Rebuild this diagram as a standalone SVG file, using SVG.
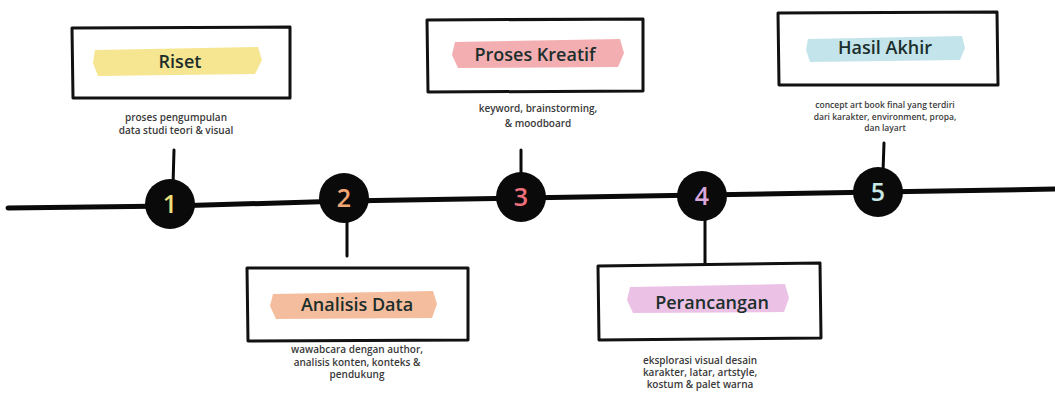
<svg xmlns="http://www.w3.org/2000/svg" width="1055" height="396" viewBox="0 0 1055 396">
<style>
.box{fill:#fff;stroke:#111;stroke-width:3;stroke-linejoin:round}
.hl{opacity:0.85}
.title{font-family:"Open Sans","Liberation Sans",sans-serif;font-size:18px;font-weight:600;fill:#1c2e2b;text-anchor:middle}
.desc{font-family:"Open Sans","Liberation Sans",sans-serif;font-size:10px;font-weight:600;fill:#3a3a3a;text-anchor:middle}
.descs{font-family:"Open Sans","Liberation Sans",sans-serif;font-size:8.5px;font-weight:600;fill:#3a3a3a;text-anchor:middle}
.dot{fill:#0a0a0a}
.num{font-family:"Open Sans","Liberation Sans",sans-serif;font-size:25px;font-weight:600;text-anchor:middle}
.ln{stroke:#0a0a0a;fill:none;stroke-linecap:round}
</style>
<rect width="1055" height="396" fill="#fff"/>
<g id="connectors">
<path class="ln" d="M8,208 L172,206 L345,201 L521,198 L702,195 L878,192 L1055,189" stroke-width="5"/>
<line class="ln" x1="174" y1="150" x2="173" y2="185" stroke-width="3"/>
<line class="ln" x1="521" y1="150" x2="521" y2="178" stroke-width="3"/>
<line class="ln" x1="884" y1="143" x2="883" y2="172" stroke-width="3"/>
<line class="ln" x1="347" y1="220" x2="347" y2="256" stroke-width="3"/>
<line class="ln" x1="705" y1="218" x2="705" y2="263" stroke-width="3"/>
</g>
<g id="step1">
<circle class="dot" cx="170" cy="204" r="25"/>
<text class="num" x="170" y="213" fill="#eee07a">1</text>
</g>
<g id="step2">
<circle class="dot" cx="344" cy="198" r="25"/>
<text class="num" x="344" y="207" fill="#f4a673">2</text>
</g>
<g id="step3">
<circle class="dot" cx="521" cy="197" r="25"/>
<text class="num" x="521" y="206" fill="#ec6f7c">3</text>
</g>
<g id="step4">
<circle class="dot" cx="702" cy="196" r="25"/>
<text class="num" x="702" y="205" fill="#d9a6dc">4</text>
</g>
<g id="step5">
<circle class="dot" cx="878" cy="192" r="25"/>
<text class="num" x="878" y="201" fill="#c6e8e6">5</text>
</g>
<g id="riset">
<path class="box" d="M72,28 L290,27 L290,98 L73,98 Z"/>
<path class="hl" d="M95,50 L258,47 L262,60 L255,74 L98,76 L93,63 Z" fill="#f4e27e"/>
<text class="title" x="180" y="68">Riset</text>
<text class="desc" x="176" y="121">proses pengumpulan</text>
<text class="desc" x="176" y="134">data studi teori &amp; visual</text>
</g>
<g id="proses-kreatif">
<path class="box" d="M427,20 L643,19 L643,91 L428,92 Z"/>
<path class="hl" d="M455,42 L620,39 L624,53 L618,67 L458,68 L452,55 Z" fill="#f1a0a3"/>
<text class="title" x="535" y="61">Proses Kreatif</text>
<text class="desc" x="538" y="112">keyword, brainstorming,</text>
<text class="desc" x="538" y="127">&amp; moodboard</text>
</g>
<g id="hasil-akhir">
<path class="box" d="M778,13 L997,12 L998,85 L779,85 Z"/>
<path class="hl" d="M808,39 L962,36 L965,48 L960,60 L810,62 L806,50 Z" fill="#b9dfe6"/>
<text class="title" x="885" y="54">Hasil Akhir</text>
<text class="descs" x="885" y="108">concept art book final yang terdiri</text>
<text class="descs" x="885" y="120">dari karakter, environment, propa,</text>
<text class="descs" x="885" y="131">dan layart</text>
</g>
<g id="analisis-data">
<path class="box" d="M247,268 L468,268 L468,340 L248,341 Z"/>
<path class="hl" d="M273,294 L433,291 L437,304 L432,318 L276,319 L270,306 Z" fill="#f2b28c"/>
<text class="title" x="357" y="311">Analisis Data</text>
<text class="desc" x="357" y="353">wawabcara dengan author,</text>
<text class="desc" x="357" y="366">analisis konten, konteks &amp;</text>
<text class="desc" x="357" y="378">pendukung</text>
</g>
<g id="perancangan">
<path class="box" d="M598,266 L820,263 L821,338 L599,340 Z"/>
<path class="hl" d="M630,287 L785,284 L789,298 L784,312 L633,313 L627,300 Z" fill="#e8b6e2"/>
<text class="title" x="712" y="309">Perancangan</text>
<text class="desc" x="700" y="364">eksplorasi visual desain</text>
<text class="desc" x="700" y="376">karakter, latar, artstyle,</text>
<text class="desc" x="700" y="388">kostum &amp; palet warna</text>
</g>
</svg>
